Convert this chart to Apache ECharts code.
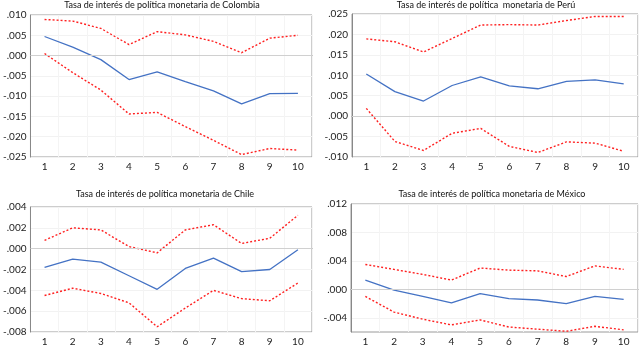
<!DOCTYPE html>
<html><head><meta charset="utf-8">
<script src="https://cdn.jsdelivr.net/npm/echarts@6/dist/echarts.min.js"></script>
<style>html,body{margin:0;padding:0;background:#fff}#c{width:640px;height:347px}</style>
</head><body><div id="c"></div>
<script>
const periods = ['1','2','3','4','5','6','7','8','9','10'];

const titles = [
  'Tasa de interés de política monetaria de Colombia',
  'Tasa de interés de política  monetaria de Perú',
  'Tasa de interés de política monetaria de Chile',
  'Tasa de interés de política monetaria de México'
];

const colCenter = [0.0047, 0.0021, -0.0010, -0.0059, -0.0040, -0.0064, -0.0087, -0.0119, -0.0094, -0.0093];
const colUpper  = [0.0089, 0.0085, 0.0067, 0.0027, 0.0059, 0.0051, 0.0035, 0.0007, 0.0043, 0.0050];
const colLower  = [0.0005, -0.0042, -0.0085, -0.0144, -0.0140, -0.0175, -0.0209, -0.0244, -0.0229, -0.0233];

const peruCenter = [0.0103, 0.0060, 0.0037, 0.0075, 0.0096, 0.0074, 0.0067, 0.0085, 0.0089, 0.0079];
const peruUpper  = [0.0189, 0.0182, 0.0157, 0.0190, 0.0223, 0.0224, 0.0223, 0.0234, 0.0244, 0.0244];
const peruLower  = [0.0019, -0.0062, -0.0084, -0.0042, -0.0030, -0.0074, -0.0089, -0.0063, -0.0066, -0.0086];

const chiCenter = [-0.0018, -0.0010, -0.0013, -0.0026, -0.0039, -0.0019, -0.0009, -0.0022, -0.0020, -0.0001];
const chiUpper  = [0.0008, 0.0020, 0.0018, 0.0002, -0.0004, 0.0018, 0.0023, 0.0005, 0.0010, 0.0032];
const chiLower  = [-0.0045, -0.0038, -0.0043, -0.0052, -0.0075, -0.0057, -0.0040, -0.0048, -0.0050, -0.0033];

const mexCenter = [0.0013, -0.0001, -0.0010, -0.0019, -0.0006, -0.0013, -0.0015, -0.0020, -0.0010, -0.0014];
const mexUpper  = [0.0035, 0.0028, 0.0021, 0.0013, 0.0030, 0.0027, 0.0026, 0.0018, 0.0033, 0.0028];
const mexLower  = [-0.0010, -0.0032, -0.0042, -0.0050, -0.0043, -0.0053, -0.0056, -0.0059, -0.0052, -0.0057];

const colTicks  = [-0.025, -0.020, -0.015, -0.010, -0.005, 0, 0.005, 0.010];
const peruTicks = [-0.010, -0.005, 0, 0.005, 0.010, 0.015, 0.020, 0.025];
const chiTicks  = [-0.008, -0.006, -0.004, -0.002, 0, 0.002, 0.004];
const mexTicks  = [-0.004, 0, 0.004, 0.008, 0.012];

const panels = [
  {c: colCenter, u: colUpper, l: colLower, ticks: colTicks, min: -0.025, max: 0.010},
  {c: peruCenter, u: peruUpper, l: peruLower, ticks: peruTicks, min: -0.010, max: 0.025},
  {c: chiCenter, u: chiUpper, l: chiLower, ticks: chiTicks, min: -0.008, max: 0.004},
  {c: mexCenter, u: mexUpper, l: mexLower, ticks: mexTicks, min: -0.006, max: 0.012}
];

const grids = [
  {left: 24, right: 328, top: 15, bottom: 190},
  {left: 352, right: 2, top: 14, bottom: 190},
  {left: 24, right: 328, top: 207, bottom: 10},
  {left: 351, right: 2, top: 204, bottom: 10}
];
const titlePos = [
  {left: 162, top: 1}, {left: 486, top: 1}, {left: 165, top: 190}, {left: 492, top: 190}
];

function fmt(v) {
  if (Math.abs(v) < 1e-12) return '.000';
  let s = v.toFixed(3);
  return s.replace('0.', '.');
}

const font = 'Lato, "Open Sans", sans-serif';
const option = {
  animation: false,
  title: titles.map((t, i) => ({
    text: t, left: titlePos[i].left, top: titlePos[i].top, textAlign: 'center', padding: 0,
    textStyle: {fontSize: 9, fontWeight: 'normal', color: '#111', fontFamily: font}
  })),
  grid: grids.map(g => Object.assign({show: true, borderColor: '#9a9a9a', borderWidth: 1, backgroundColor: '#fff'}, g)),
  xAxis: panels.map((p, i) => ({
    type: 'category', gridIndex: i, data: periods, boundaryGap: true,
    axisLine: {lineStyle: {color: '#888'}},
    axisTick: {show: false},
    axisLabel: {fontSize: 10, color: '#222', fontFamily: font, margin: 5},
    splitLine: {show: true, lineStyle: {color: '#f4f4f4'}}
  })),
  yAxis: panels.map((p, i) => ({
    type: 'value', gridIndex: i, min: p.min, max: p.max,
    axisLine: {show: true, lineStyle: {color: '#888'}},
    axisTick: {show: false, customValues: p.ticks},
    axisLabel: {fontSize: 10, color: '#222', fontFamily: font, margin: 4, formatter: fmt, customValues: p.ticks, showMinLabel: true, showMaxLabel: true},
    splitLine: {show: true, lineStyle: {color: '#f2f2f2'}}
  })),
  series: []
};

panels.forEach((p, i) => {
  option.series.push({
    type: 'line', xAxisIndex: i, yAxisIndex: i, data: p.c, symbol: 'none',
    lineStyle: {color: '#4472c4', width: 1.3}, z: 3,
    markLine: {silent: true, symbol: 'none', label: {show: false},
      lineStyle: {color: '#d0d0d0', type: 'solid', width: 1}, data: [{yAxis: 0}]}
  });
  option.series.push({
    type: 'line', xAxisIndex: i, yAxisIndex: i, data: p.u, symbol: 'none',
    lineStyle: {color: '#ff2020', width: 1.4, type: [2, 2]}, z: 2
  });
  option.series.push({
    type: 'line', xAxisIndex: i, yAxisIndex: i, data: p.l, symbol: 'none',
    lineStyle: {color: '#ff2020', width: 1.4, type: [2, 2]}, z: 2
  });
});

const chart = echarts.init(document.getElementById('c'), null, {renderer: 'canvas'});
chart.setOption(option);
</script>
</body></html>
